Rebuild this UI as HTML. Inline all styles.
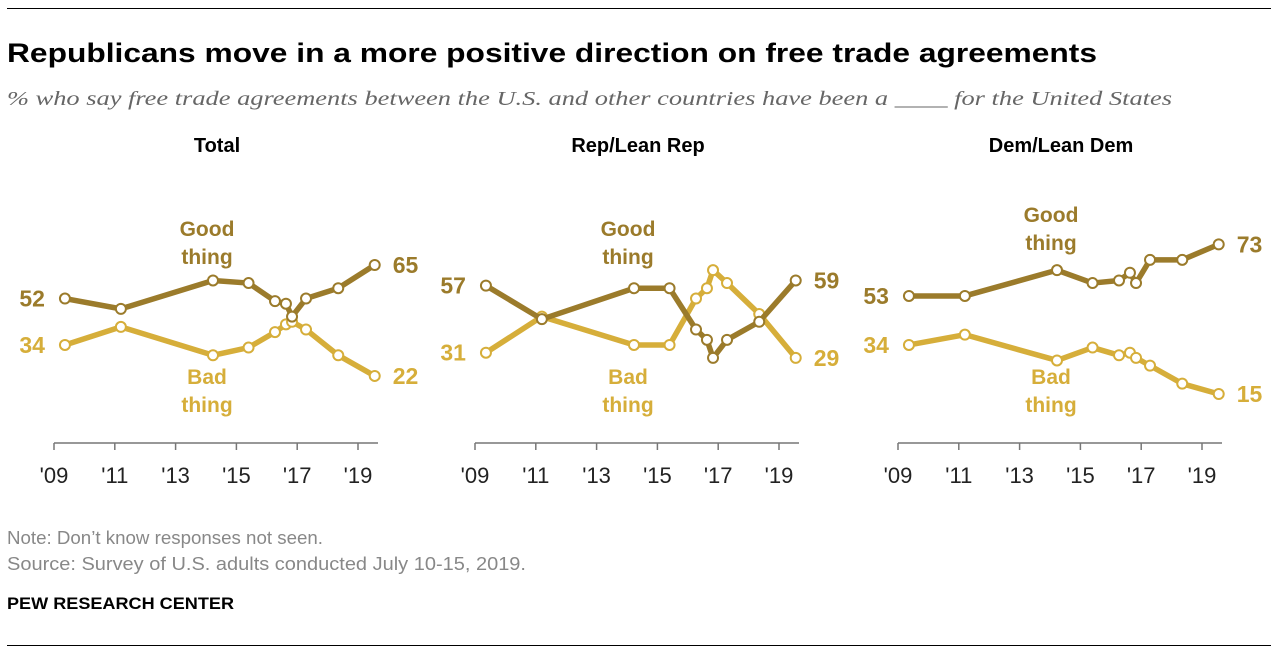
<!DOCTYPE html>
<html><head><meta charset="utf-8">
<style>
html,body{margin:0;padding:0;background:#fff;}
svg{display:block;}
text{font-family:"Liberation Sans",sans-serif;}
</style></head>
<body>
<svg id="chart" width="1278" height="654" viewBox="0 0 1278 654" xmlns="http://www.w3.org/2000/svg">
<line x1="7" y1="8.5" x2="1271" y2="8.5" stroke="#000" stroke-width="1"/>
<text x="7" y="62" font-size="27" font-weight="bold" textLength="1090" lengthAdjust="spacingAndGlyphs">Republicans move in a more positive direction on free trade agreements</text>
<text x="7" y="105" font-size="20" font-style="italic" fill="#666" style="font-family:'Liberation Serif',serif" textLength="1165" lengthAdjust="spacingAndGlyphs">% who say free trade agreements between the U.S. and other countries have been a ____ for the United States</text>
<g id="panels"></g>
<text x="7" y="544" font-size="18.5" fill="#888" textLength="316" lengthAdjust="spacingAndGlyphs">Note: Don’t know responses not seen.</text>
<text x="7" y="570" font-size="18.5" fill="#888" textLength="519" lengthAdjust="spacingAndGlyphs">Source: Survey of U.S. adults conducted July 10-15, 2019.</text>
<text x="7" y="609" font-size="17" font-weight="bold" textLength="227" lengthAdjust="spacingAndGlyphs">PEW RESEARCH CENTER</text>
<line x1="7" y1="645.5" x2="1271" y2="645.5" stroke="#000" stroke-width="1"/>
</svg>
<script>
const surveyDates = [2009.36, 2011.2, 2014.23, 2015.4, 2016.27, 2016.63, 2016.83, 2017.29, 2018.35, 2019.55];
const tickYears = [2009, 2011, 2013, 2015, 2017, 2019];
const tickLabels = ["'09", "'11", "'13", "'15", "'17", "'19"];
const panelTitles = ["Total", "Rep/Lean Rep", "Dem/Lean Dem"];
const goodTotal = [52, 48, 59, 58, 51, 50, 45, 52, 56, 65];
const badTotal  = [34, 41, 30, 33, 39, 42, 43, 40, 30, 22];
const goodRep   = [57, 44, 56, 56, 40, 36, 29, 36, 43, 59];
const badRep    = [31, 45, 34, 34, 52, 56, 63, 58, 46, 29];
const goodDem   = [53, 53, 63, 58, 59, 62, 58, 67, 67, 73];
const badDem    = [34, 38, 28, 33, 30, 31, 29, 26, 19, 15];

const GOOD = "#9b7b2b", BAD = "#d6ae3a";
const NS = "http://www.w3.org/2000/svg";
const root = document.getElementById('panels');
const origins = [54, 475, 898];
const pxPerYear = 30.4;
function yScale(v){ return 432.7 - 2.58 * v; }
function mk(tag, attrs, parent){ const e = document.createElementNS(NS, tag); for (const k in attrs) e.setAttribute(k, attrs[k]); parent.appendChild(e); return e; }

const seriesSets = [[goodTotal, badTotal], [goodRep, badRep], [goodDem, badDem]];
const goodLabelY = [236, 236, 222];

panelTitles.forEach((title, p) => {
  const x0 = origins[p];
  const xScale = d => x0 + (d - 2009) * pxPerYear;
  const g = mk('g', {}, root);
  
  
  const cx = x0 + 163;
  const t = mk('text', {x: cx, y: 152, 'font-size': 20, 'font-weight': 'bold', 'text-anchor': 'middle'}, g);
  t.textContent = title;
  
  
  const ax = mk('line', {x1: x0, y1: 443, x2: x0 + 324, y2: 443, stroke: '#777', 'stroke-width': 1.5}, g);
  
  
  tickYears.forEach((yr, i) => {
    const tx = xScale(yr);
    const tk = mk('line', {x1: tx, y1: 443, x2: tx, y2: 450, stroke: '#777', 'stroke-width': 1.5}, g);
    
    
    const tl = mk('text', {x: tx, y: 483, 'font-size': 22, 'text-anchor': 'middle', fill: '#222'}, g);
    tl.textContent = tickLabels[i];
    
    
  });
  const [good, bad] = seriesSets[p];
  [[bad, BAD, 'bad-thing'], [good, GOOD, 'good-thing']].forEach(([vals, col, nm]) => {
    const pts = vals.map((v, i) => xScale(surveyDates[i]) + ',' + yScale(v)).join(' ');
    const pl = mk('polyline', {points: pts, fill: 'none', stroke: col, 'stroke-width': 5.5, 'stroke-linejoin': 'round', 'stroke-linecap': 'round'}, g);
    
    
    vals.forEach((v, i) => {
      const c = mk('circle', {cx: xScale(surveyDates[i]), cy: yScale(v), r: 5, fill: '#fff', stroke: col, 'stroke-width': 2}, g);
      
      
    });
    const n = vals.length;
    const l1 = mk('text', {x: xScale(surveyDates[0]) - 20, y: yScale(vals[0]) + 8, 'font-size': 23, 'font-weight': 'bold', 'text-anchor': 'end', fill: col}, g);
    l1.textContent = vals[0];
    
    
    const l2 = mk('text', {x: xScale(surveyDates[n-1]) + 18, y: yScale(vals[n-1]) + 8, 'font-size': 23, 'font-weight': 'bold', fill: col}, g);
    l2.textContent = vals[n-1];
    
    
  });
  const lx = x0 + 153;
  [['Good', goodLabelY[p], GOOD, 'good-thing-label'], ['thing', goodLabelY[p] + 28, GOOD, 'good-thing-label'],
   ['Bad', 384, BAD, 'bad-thing-label'], ['thing', 412, BAD, 'bad-thing-label']].forEach(([txt, y, col, nm]) => {
    const e = mk('text', {x: lx, y: y, 'font-size': 21, 'font-weight': 'bold', 'text-anchor': 'middle', fill: col}, g);
    e.textContent = txt;
    
    
  });
});
</script>
</body></html>
